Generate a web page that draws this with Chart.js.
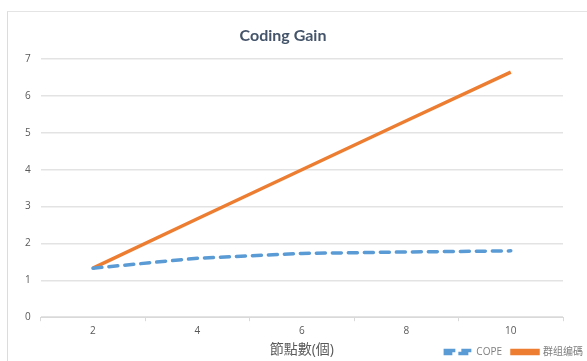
<!DOCTYPE html>
<html>
<head>
<meta charset="utf-8">
<script src="https://cdn.jsdelivr.net/npm/chart.js@4.4.1/dist/chart.umd.min.js"></script>
<style>
html,body{margin:0;padding:0;background:#fff;}
#frame{position:absolute;left:7px;top:11px;width:600px;height:400px;border-left:1px solid #dcdcdc;border-top:1px solid #e4e4e4;}
#wrap{position:absolute;left:0;top:0;width:587px;height:361px;}
</style>
</head>
<body>
<div id="frame"></div>
<div id="wrap"><canvas id="c" width="587" height="361"></canvas></div>
<script>
const categories = ['2','4','6','8','10'];
const copeValues = [1.33, 1.6, 1.73, 1.77, 1.8];
const groupValues = [1.33, 2.67, 4.0, 5.33, 6.65];
const seriesNames = ['COPE', '群组编碼'];
const yTicks = [0,1,2,3,4,5,6,7];

const FONT = "'Open Sans', 'Noto Sans CJK TC', sans-serif";
const layoutTweaks = {
  id: 'layoutTweaks',
  beforeLayout(chart) {
    const lg = chart.legend;
    if (lg && !lg._trimmed) {
      const f = lg.fit;
      lg.fit = function() { f.call(this); this.height -= 6; };
      lg._trimmed = true;
    }
  },
  afterLayout(chart) {
    const lg = chart.legend;
    if (lg) { lg.right = chart.width + 6; lg.width = lg.right - lg.left; }
    const tb = chart.titleBlock;
    if (tb) { tb.left = 0; tb.right = 566; tb.width = 566; }
  }
};
new Chart(document.getElementById('c'), {
  type: 'line',
  data: {
    labels: categories,
    datasets: [
      {label: seriesNames[0], data: copeValues, borderColor: '#5b9bd5', backgroundColor: '#5b9bd5',
       borderWidth: 3.5, borderDash: [9, 7], pointRadius: 0, tension: 0, borderCapStyle: 'round'},
      {label: seriesNames[1], data: groupValues, borderColor: '#ed7d31', backgroundColor: '#ed7d31',
       borderWidth: 3.5, pointRadius: 0, tension: 0}
    ]
  },
  plugins: [layoutTweaks],
  options: {
    responsive: false,
    animation: false,
    layout: {padding: {left: 15, right: 24, top: 21, bottom: 0}},
    plugins: {
      title: {display: true, text: 'Coding Gain', color: '#44546a',
              font: {family: "Lato, 'Open Sans', sans-serif", size: 16, weight: 'bold'}, padding: {top: 5, bottom: 14}},
      legend: {position: 'bottom', align: 'end',
               labels: {boxWidth: 26, boxHeight: 3, color: '#7f7f7f', padding: 10,
                        font: {family: FONT, size: 10},
                        generateLabels: (chart) => chart.data.datasets.map((d, i) => ({
                          text: d.label, fillStyle: 'transparent', strokeStyle: d.borderColor,
                          lineWidth: 3.5, lineDash: i === 0 ? [10, 6] : [], datasetIndex: i, fontColor: '#7f7f7f'
                        })),
                        usePointStyle: false}},
      tooltip: {enabled: false}
    },
    scales: {
      x: {
        offset: true,
        grid: {display: true, drawOnChartArea: false, drawTicks: true, tickLength: 4, offset: true, color: '#d9d9d9'},
        border: {display: true, color: '#d9d9d9'},
        ticks: {color: '#595959', font: {family: FONT, size: 10}, padding: 4},
        title: {display: true, text: '節點數(個)', color: '#595959',
                font: {family: FONT, size: 14}, padding: {top: 0, bottom: -21}}
      },
      y: {
        min: 0, max: 7,
        afterBuildTicks: (axis) => { axis.ticks = yTicks.map(v => ({value: v})); },
        grid: {color: '#e3e3e3', lineWidth: 1.5, drawTicks: false},
        border: {display: false},
        ticks: {color: '#595959', font: {family: FONT, size: 10}, padding: 10}
      }
    }
  }
});
</script>
</body>
</html>
